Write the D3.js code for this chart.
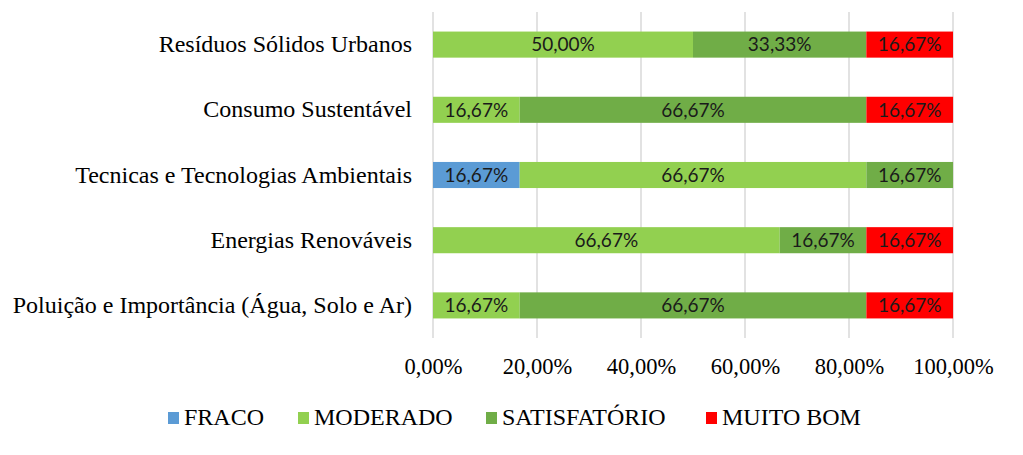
<!DOCTYPE html>
<html>
<head>
<meta charset="utf-8">
<script src="https://cdn.jsdelivr.net/npm/d3@7"></script>
<style>
  body { margin: 0; background: #fff; }
  svg { display: block; }
</style>
</head>
<body>
<svg id="chart" width="1023" height="455"></svg>
<script>
"use strict";

// Catégories (de haut en bas) et séries empilées
var categories = [
  "Resíduos Sólidos Urbanos",
  "Consumo Sustentável",
  "Tecnicas e Tecnologias Ambientais",
  "Energias Renováveis",
  "Poluição e Importância (Água, Solo e Ar)"
];
var seriesNames = ["FRACO", "MODERADO", "SATISFATÓRIO", "MUITO BOM"];
var fraco        = [0, 0, 16.67, 0, 0];
var moderado     = [50.00, 16.67, 66.67, 66.67, 16.67];
var satisfatorio = [33.33, 66.67, 16.67, 16.67, 66.67];
var muitoBom     = [16.67, 16.67, 0, 16.67, 16.67];
var xTicks = [0, 20, 40, 60, 80, 100];

var colors = ["#5B9BD5", "#92D050", "#70AD47", "#FF0000"];

var svg = d3.select("#chart");
var plotLeft = 433, plotRight = 953, plotTop = 12, plotBottom = 338;
var serif = "'Liberation Serif', 'Times New Roman', serif";

var pt = d3.formatLocale({ decimal: ",", thousands: ".", grouping: [3], currency: ["", ""] });
var fmt = pt.format(".2f");

var rows = categories.map(function (c, i) {
  return { name: c, "FRACO": fraco[i], "MODERADO": moderado[i], "SATISFATÓRIO": satisfatorio[i], "MUITO BOM": muitoBom[i] };
});
var stacked = d3.stack().keys(seriesNames)(rows);

var x = d3.scaleLinear().domain([0, 100]).range([plotLeft, plotRight]);
var y = d3.scaleBand().domain(categories).range([plotTop, plotBottom]).paddingInner(0.6).paddingOuter(0.3);
var color = d3.scaleOrdinal().domain(seriesNames).range(colors);

// Grille verticale
svg.append("g")
  .selectAll("line")
  .data(xTicks)
  .enter()
  .append("line")
  .attr("x1", function (d) { return x(d); })
  .attr("x2", function (d) { return x(d); })
  .attr("y1", plotTop)
  .attr("y2", plotBottom)
  .attr("stroke", "#d9d9d9")
  .attr("stroke-width", 1.5);

// Barres empilées
var layers = svg.append("g")
  .selectAll("g")
  .data(stacked)
  .enter()
  .append("g")
  .attr("fill", function (d) { return color(d.key); });

layers.selectAll("rect")
  .data(function (d) { return d; })
  .enter()
  .append("rect")
  .attr("x", function (d) { return x(d[0]); })
  .attr("width", function (d) { return x(d[1]) - x(d[0]); })
  .attr("y", function (d) { return y(d.data.name); })
  .attr("height", y.bandwidth());

// Étiquettes de valeur
layers.selectAll("text")
  .data(function (d) { return d.filter(function (s) { return s[1] - s[0] > 0; }); })
  .enter()
  .append("text")
  .attr("x", function (d) { return (x(d[0]) + x(d[1])) / 2; })
  .attr("y", function (d) { return y(d.data.name) + y.bandwidth() / 2; })
  .attr("dy", "0.36em")
  .attr("text-anchor", "middle")
  .attr("fill", "#1a1a1a")
  .style("font-family", "Lato, 'Open Sans', sans-serif")
  .style("font-size", "19px")
  .text(function (d) { return fmt(d[1] - d[0]) + "%"; });

// Axe X
var xAxis = svg.append("g")
  .attr("transform", "translate(0," + plotBottom + ")")
  .call(d3.axisBottom(x).tickValues(xTicks).tickSize(0)
    .tickFormat(function (d) { return fmt(d) + "%"; }));
xAxis.select(".domain").remove();
xAxis.selectAll("text")
  .attr("y", 36)
  .attr("dy", 0)
  .attr("fill", "#000")
  .style("font-family", serif)
  .style("font-size", "22.5px");

// Axe Y
var yAxis = svg.append("g")
  .attr("transform", "translate(" + plotLeft + ",0)")
  .call(d3.axisLeft(y).tickSize(0).tickPadding(21));
yAxis.select(".domain").remove();
yAxis.selectAll("text")
  .attr("fill", "#000")
  .style("font-family", serif)
  .style("font-size", "24px");

// Légende
var legendX = [168, 298, 486, 706];
var legend = svg.append("g")
  .attr("class", "legend")
  .style("font-family", serif)
  .style("font-size", "24px");

legend.selectAll("rect")
  .data(seriesNames)
  .enter()
  .append("rect")
  .attr("x", function (d, i) { return legendX[i]; })
  .attr("y", 412)
  .attr("width", 11)
  .attr("height", 12)
  .attr("fill", function (d) { return color(d); });

legend.selectAll("text")
  .data(seriesNames)
  .enter()
  .append("text")
  .attr("x", function (d, i) { return legendX[i] + 16; })
  .attr("y", 425)
  .attr("fill", "#000")
  .text(function (d) { return d; });
</script>
</body>
</html>
